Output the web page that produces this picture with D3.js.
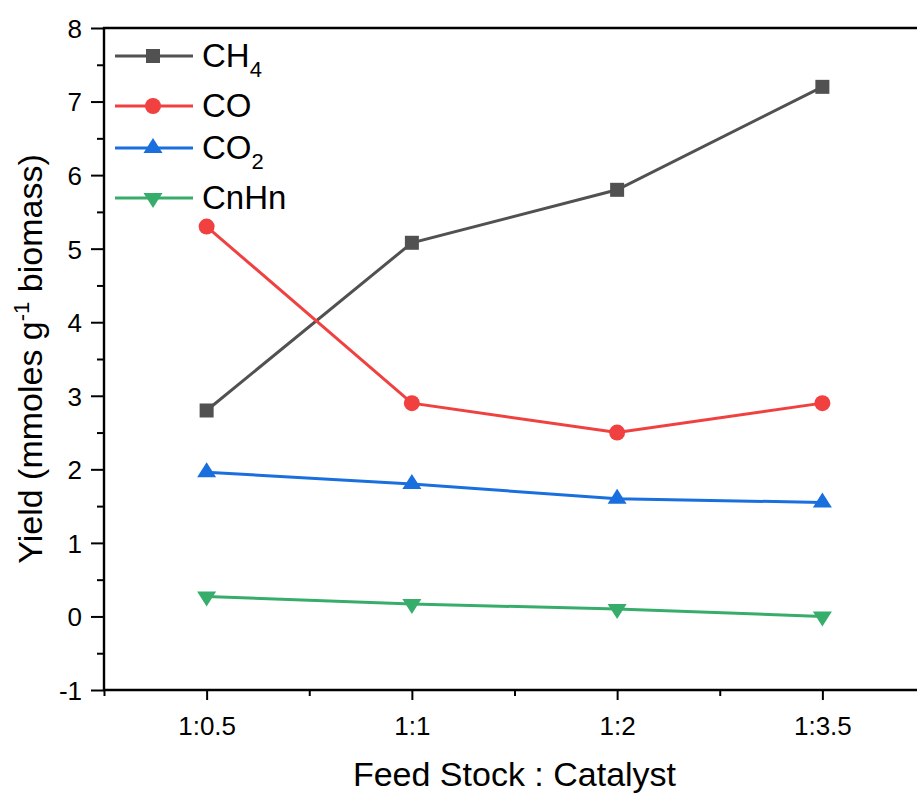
<!DOCTYPE html>
<html>
<head>
<meta charset="utf-8">
<script src="https://cdn.jsdelivr.net/npm/d3@7"></script>
<style>
  html, body { margin: 0; padding: 0; background: #fff; }
  svg { display: block; font-family: "Liberation Sans", Arial, sans-serif; }
</style>
</head>
<body>
<svg id="chart" width="917" height="794"></svg>
<script>
// Feed stock : catalyst ratios
const categories = ["1:0.5", "1:1", "1:2", "1:3.5"];

// Gas yields, mmoles per g biomass
const ch4  = [2.8, 5.08, 5.8, 7.2];
const co   = [5.3, 2.9, 2.5, 2.9];
const co2  = [1.96, 1.8, 1.6, 1.55];
const cnhn = [0.27, 0.17, 0.1, 0.0];

const yTicks = [-1, 0, 1, 2, 3, 4, 5, 6, 7, 8];

const series = [
  { name: "CH", sub: "4", values: ch4,  color: "#515151", symbol: "square" },
  { name: "CO", sub: "",  values: co,   color: "#F14040", symbol: "circle" },
  { name: "CO", sub: "2", values: co2,  color: "#1A6FDF", symbol: "up" },
  { name: "CnHn", sub: "", values: cnhn, color: "#37AD6B", symbol: "down" }
];

const W = 917, H = 794;
const plotL = 104, plotR = 925, plotT = 28, plotB = 690;

const svg = d3.select("#chart");

const x = d3.scaleLinear().domain([-0.5, categories.length - 0.5]).range([plotL, plotR]);
const y = d3.scaleLinear().domain([-1, 8]).range([plotB, plotT]);

// Marker shapes
function marker(g, symbol, color) {
  if (symbol === "square") {
    g.append("rect").attr("x", -7).attr("y", -7).attr("width", 14).attr("height", 14).attr("fill", color);
  } else if (symbol === "circle") {
    g.append("circle").attr("r", 8).attr("fill", color);
  } else if (symbol === "up") {
    // centroid-centered triangle
    g.append("path").attr("d", "M0,-10 L9.5,5 L-9.5,5 Z").attr("fill", color);
  } else {
    g.append("path").attr("d", "M0,10 L9.5,-5 L-9.5,-5 Z").attr("fill", color);
  }
}

// Axes
const axisStyle = g => {
  g.selectAll("path.domain").remove();
  g.selectAll("line").attr("stroke", "#000").attr("stroke-width", 2);
  g.selectAll("text").attr("fill", "#000").style("font-size", "26px");
};

// Y axis: major and minor ticks
svg.append("g")
  .attr("transform", `translate(${plotL},0)`)
  .call(d3.axisLeft(y).tickValues(yTicks).tickSize(13).tickPadding(9).tickFormat(d => String(d)))
  .call(axisStyle)
  .selectAll("text").attr("dy", "0.36em");

svg.append("g")
  .attr("transform", `translate(${plotL},0)`)
  .call(d3.axisLeft(y).tickValues(d3.range(-0.5, 8, 1)).tickSize(7).tickFormat(""))
  .call(axisStyle);

// X axis: categories at integer positions, minor ticks between
svg.append("g")
  .attr("transform", `translate(0,${plotB})`)
  .call(d3.axisBottom(x).tickValues(d3.range(categories.length)).tickSize(10).tickPadding(17)
        .tickFormat(i => categories[i]))
  .call(axisStyle);

svg.append("g")
  .attr("transform", `translate(0,${plotB})`)
  .call(d3.axisBottom(x).tickValues(d3.range(-0.5, categories.length, 1)).tickSize(6).tickFormat(""))
  .call(axisStyle);

// Frame lines: left, bottom, top
svg.append("line").attr("x1", plotL).attr("x2", plotL).attr("y1", plotT - 1).attr("y2", plotB + 1)
  .attr("stroke", "#000").attr("stroke-width", 2.4);
svg.append("line").attr("x1", plotL - 1).attr("x2", W).attr("y1", plotB).attr("y2", plotB)
  .attr("stroke", "#000").attr("stroke-width", 2.4);
svg.append("line").attr("x1", plotL - 1).attr("x2", W).attr("y1", plotT).attr("y2", plotT)
  .attr("stroke", "#000").attr("stroke-width", 2.4);

// Series lines and markers
const line = d3.line().x((d, i) => x(i)).y(d => y(d));
series.forEach(s => {
  svg.append("path").datum(s.values)
    .attr("d", line).attr("fill", "none")
    .attr("stroke", s.color).attr("stroke-width", 3);
  s.values.forEach((v, i) => {
    const g = svg.append("g").attr("transform", `translate(${x(i)},${y(v)})`);
    marker(g, s.symbol, s.color);
  });
});

// Legend
let ly = 56;
series.forEach(s => {
  const g = svg.append("g").attr("transform", `translate(0,${ly})`);
  g.append("line").attr("x1", 115).attr("x2", 193).attr("y1", 0).attr("y2", 0)
    .attr("stroke", s.color).attr("stroke-width", 3);
  const m = g.append("g").attr("transform", "translate(153,0)");
  marker(m, s.symbol, s.color);
  const t = g.append("text").attr("x", 202).attr("y", 11)
    .attr("fill", "#000").style("font-size", "33px").text(s.name);
  if (s.sub) {
    t.append("tspan").attr("dy", 10).style("font-size", "22px").text(s.sub);
  }
  ly += s.sub ? 50 : 42;
});

// Axis titles
svg.append("text")
  .attr("x", (plotL + plotR) / 2).attr("y", 786)
  .attr("text-anchor", "middle").attr("fill", "#000")
  .style("font-size", "34px")
  .text("Feed Stock : Catalyst");

const yt = svg.append("text")
  .attr("transform", `translate(42,${(plotT + plotB) / 2}) rotate(-90)`)
  .attr("text-anchor", "middle").attr("fill", "#000")
  .style("font-size", "34px");
yt.append("tspan").text("Yield (mmoles g");
yt.append("tspan").attr("dy", -13).style("font-size", "22px").text("-1");
yt.append("tspan").attr("dy", 13).text(" biomass)");
</script>
</body>
</html>
